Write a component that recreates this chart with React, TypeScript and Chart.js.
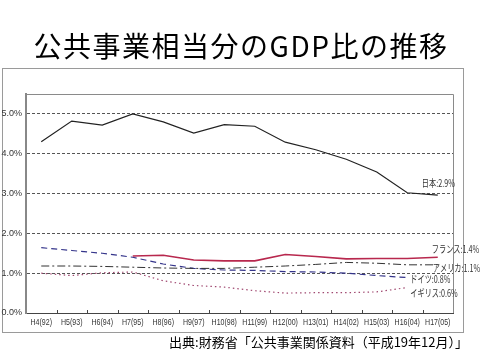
import React, { useEffect, useRef } from "react";
import { Chart, registerables } from "chart.js";

Chart.register(...registerables);

const TITLE = "公共事業相当分のGDP比の推移";
const SOURCE = "出典:財務省「公共事業関係資料（平成19年12月）」";

const categories = [
  "H4(92)", "H5(93)", "H6(94)", "H7(95)", "H8(96)", "H9(97)", "H10(98)",
  "H11(99)", "H12(00)", "H13(01)", "H14(02)", "H15(03)", "H16(04)", "H17(05)",
];

const japan = [4.3, 4.82, 4.72, 5.0, 4.8, 4.52, 4.73, 4.69, 4.29, 4.1, 3.86, 3.54, 3.02, 2.96];
const france = [null, null, null, 1.43, 1.45, 1.33, 1.31, 1.31, 1.47, 1.42, 1.36, 1.37, 1.37, 1.4];
const america = [1.18, 1.18, 1.17, 1.15, 1.13, 1.12, 1.12, 1.15, 1.18, 1.22, 1.27, 1.25, 1.21, 1.21];
const germany = [1.64, 1.57, 1.5, 1.4, 1.23, 1.12, 1.08, 1.07, 1.04, 1.03, 1.0, 0.94, 0.89, null];
const uk = [1.0, 0.94, 1.01, 1.03, 0.81, 0.69, 0.65, 0.56, 0.5, 0.51, 0.51, 0.53, 0.64, null];

const endLabels = ["日本:2.9%", "フランス:1.4%", "アメリカ:1.1%", "ドイツ:0.8%", "イギリス:0.6%"];
const yTickValues = [0, 1, 2, 3, 4, 5];

const W = 481;
const H = 357;

const labelOffsets = [
  [-16, -12],
  [-6, -8],
  [-5, 3],
  [3, 1.5],
  [3, 6],
];

const decorPlugin = {
  id: "decor",
  beforeDraw(chart: any) {
    const ctx = chart.ctx;
    ctx.save();
    ctx.fillStyle = "#ffffff";
    ctx.fillRect(0, 0, W, H);
    // outer frame
    ctx.strokeStyle = "#9a9a9a";
    ctx.lineWidth = 1;
    ctx.strokeRect(2.5, 68.5, 461, 264);
    // plot frame top/right
    const a = chart.chartArea;
    ctx.strokeStyle = "#8a8a8a";
    ctx.beginPath();
    ctx.moveTo(a.left, a.top + 0.5);
    ctx.lineTo(a.right + 0.5, a.top + 0.5);
    ctx.lineTo(a.right + 0.5, a.bottom);
    ctx.stroke();
    ctx.restore();
  },
  afterDatasetsDraw(chart: any) {
    const ctx = chart.ctx;
    const xs = chart.scales.x;
    const a = chart.chartArea;
    ctx.save();
    // small inner ticks at category boundaries
    ctx.strokeStyle = "#444";
    ctx.lineWidth = 1;
    for (let i = 1; i < categories.length; i++) {
      const x = Math.round((xs.getPixelForValue(i - 1) + xs.getPixelForValue(i)) / 2) + 0.5;
      ctx.beginPath();
      ctx.moveTo(x, a.bottom);
      ctx.lineTo(x, a.bottom - 3);
      ctx.stroke();
    }
    // x category labels (condensed)
    ctx.fillStyle = "#333";
    ctx.font = '9px "Liberation Sans"';
    ctx.textBaseline = "middle";
    ctx.textAlign = "center";
    categories.forEach((c, i) => {
      const x = xs.getPixelForValue(i);
      ctx.save();
      ctx.translate(x, a.bottom + 10);
      ctx.scale(0.78, 1);
      ctx.fillText(c, 0, 0);
      ctx.restore();
    });
    // end labels
    ctx.fillStyle = "#333";
    ctx.font = '10px "Noto Sans CJK JP"';
    ctx.textBaseline = "middle";
    ctx.textAlign = "left";
    chart.data.datasets.forEach((ds: any, di: number) => {
      const meta = chart.getDatasetMeta(di);
      let last = -1;
      ds.data.forEach((v: any, i: number) => { if (v !== null) last = i; });
      if (last < 0) return;
      const pt = meta.data[last];
      const [dx, dy] = labelOffsets[di];
      ctx.save();
      ctx.translate(pt.x + dx, pt.y + dy);
      ctx.scale(0.72, 1);
      ctx.fillText(endLabels[di], 0, 0);
      ctx.restore();
    });
    ctx.restore();
  },
  afterDraw(chart: any) {
    const ctx = chart.ctx;
    ctx.save();
    ctx.fillStyle = "#000";
    ctx.textBaseline = "middle";
    ctx.textAlign = "center";
    ctx.font = '28px "Noto Sans CJK JP"';
    (ctx as any).letterSpacing = "1.5px";
    ctx.fillText(TITLE, 241, 46);
    (ctx as any).letterSpacing = "0px";
    ctx.font = '13px "Noto Sans CJK JP"';
    ctx.textAlign = "right";
    ctx.fillText(SOURCE, 468, 342);
    ctx.restore();
  },
};

export default function App() {
  const ref = useRef<HTMLCanvasElement | null>(null);
  useEffect(() => {
    if (!ref.current) return;
    const chart = new Chart(ref.current, {
      type: "line",
      data: {
        labels: categories,
        datasets: [
          { label: "日本", data: japan, borderColor: "#222", borderWidth: 1.2, pointRadius: 0, fill: false },
          { label: "フランス", data: france, borderColor: "#b8284e", borderWidth: 1.6, pointRadius: 0, fill: false },
          { label: "アメリカ", data: america, borderColor: "#333", borderWidth: 1, borderDash: [8, 3, 2, 3], pointRadius: 0, fill: false },
          { label: "ドイツ", data: germany, borderColor: "#34348a", borderWidth: 1.2, borderDash: [6, 4], pointRadius: 0, fill: false },
          { label: "イギリス", data: uk, borderColor: "#a04870", borderWidth: 1.2, borderDash: [1.5, 3], pointRadius: 0, fill: false },
        ],
      },
      options: {
        animation: false,
        responsive: false,
        devicePixelRatio: 1,
        layout: { padding: { top: 94, right: 28, bottom: 0, left: 0 } },
        plugins: { legend: { display: false }, tooltip: { enabled: false }, title: { display: false } },
        scales: {
          x: {
            offset: true,
            grid: { display: false, drawTicks: false },
            border: { display: true, color: "#444", width: 1 },
            ticks: { display: false },
            afterFit: (s: any) => { s.height = 44; },
          },
          y: {
            min: 0,
            max: 5.5,
            grid: {
              drawTicks: false,
              color: (c: any) => (c.tick && c.tick.value === 0 ? "rgba(0,0,0,0)" : "#555"),
              lineWidth: 1,
            },
            border: { display: true, color: "#888", width: 2, dash: [3, 2] },
            afterBuildTicks: (s: any) => {
              s.ticks = yTickValues.map((v) => ({ value: v }));
            },
            ticks: {
              color: "#333",
              padding: 4,
              font: { family: '"Liberation Sans Narrow", "Liberation Sans", sans-serif', size: 9 },
              callback: (v: any) => Number(v).toFixed(1) + "%",
            },
            afterFit: (s: any) => { s.width = 26; },
          },
        },
      },
      plugins: [decorPlugin],
    });
    return () => chart.destroy();
  }, []);
  return (
    <div style={{ position: "absolute", left: 0, top: 0, width: W, height: H }}>
      <canvas ref={ref} width={W} height={H} style={{ display: "block", width: W, height: H }} />
    </div>
  );
}
